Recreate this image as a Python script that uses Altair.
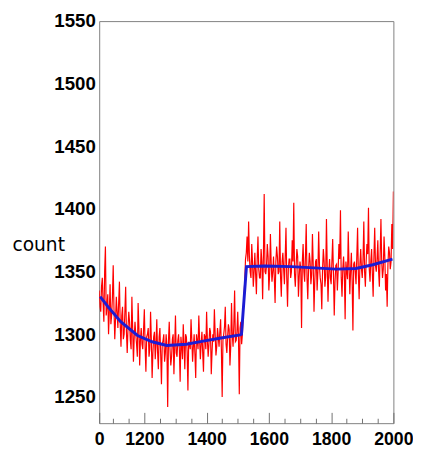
import altair as alt
import pandas as pd

# ---- data ----
bin_width = 5
# counts at 1055, 1060, ..., 2000
counts = [
    1335, 1318, 1345, 1310, 1370, 1322, 1300, 1340, 1315, 1355,
    1296, 1330, 1305, 1342, 1290, 1322, 1300, 1338, 1285, 1318,
    1295, 1330, 1278, 1310, 1292, 1325, 1275, 1305, 1288, 1320,
    1270, 1300, 1282, 1318, 1265, 1298, 1280, 1312, 1272, 1305,
    1260, 1295, 1278, 1300, 1242, 1310, 1275, 1296, 1268, 1315,
    1282, 1300, 1262, 1290, 1308, 1272, 1298, 1255, 1292, 1312,
    1278, 1300, 1265, 1295, 1315, 1280, 1302, 1270, 1298, 1318,
    1282, 1305, 1268, 1300, 1320, 1283, 1305, 1290, 1312, 1250,
    1300, 1322, 1285, 1308, 1275, 1325, 1290, 1335, 1295, 1318,
    1252, 1310, 1300, 1330, 1360, 1378, 1390,
    1350, 1372, 1338, 1365, 1332, 1378, 1345, 1368, 1328, 1412,
    1348, 1372, 1335, 1380, 1342, 1362, 1325, 1370, 1348, 1390,
    1330, 1365, 1340, 1385, 1322, 1360, 1345, 1375, 1405, 1338,
    1368, 1330, 1358, 1305, 1372, 1342, 1388, 1328, 1365, 1340,
    1380, 1318, 1358, 1335, 1382, 1345, 1320, 1368, 1338, 1392,
    1326, 1360, 1340, 1376, 1315, 1355, 1335, 1372, 1399, 1330,
    1362, 1312, 1350, 1382, 1332, 1365, 1303, 1358, 1340, 1385,
    1328, 1368, 1345, 1390, 1338, 1372, 1401, 1342, 1368, 1330,
    1385, 1350, 1375, 1338, 1392, 1345, 1378, 1335, 1322, 1370,
    1352, 1388, 1414,
]
# counts at 1057.5, 1062.5, ..., 1997.5
counts_mid = [
    1322, 1338, 1325, 1350, 1315, 1332, 1318, 1308, 1330, 1320,
    1312, 1318, 1325, 1308, 1315, 1296, 1318, 1302, 1305, 1310,
    1288, 1305, 1298, 1300, 1282, 1306, 1296, 1292, 1304, 1290,
    1298, 1305, 1288, 1296, 1285, 1302, 1292, 1286, 1298, 1284,
    1292, 1300, 1285, 1290, 1295, 1288, 1282, 1300, 1290, 1285,
    1295, 1288, 1298, 1280, 1292, 1300, 1286, 1294, 1288, 1296,
    1290, 1284, 1300, 1288, 1296, 1292, 1285, 1300, 1288, 1296,
    1292, 1302, 1286, 1294, 1300, 1290, 1298, 1302, 1288, 1295,
    1306, 1292, 1298, 1304, 1290, 1300, 1308, 1294, 1302, 1296,
    1305, 1292, 1315, 1342, 1365, 1358,
    1362, 1345, 1358, 1350, 1348, 1360, 1352, 1345, 1358, 1362,
    1350, 1355, 1362, 1348, 1356, 1350, 1345, 1358, 1362, 1350,
    1346, 1358, 1352, 1362, 1345, 1352, 1360, 1350, 1358, 1348,
    1355, 1362, 1346, 1352, 1358, 1350, 1362, 1345, 1352, 1358,
    1348, 1355, 1342, 1360, 1350, 1355, 1340, 1352, 1358, 1346,
    1354, 1350, 1345, 1358, 1348, 1342, 1356, 1350, 1360, 1345,
    1352, 1348, 1358, 1344, 1355, 1350, 1342, 1356, 1350, 1362,
    1348, 1356, 1352, 1360, 1350, 1358, 1364, 1352, 1358, 1348,
    1362, 1355, 1360, 1350, 1364, 1358, 1352, 1362, 1348, 1356,
    1365, 1358, 1368,
]
fit_x = [1058, 1083, 1124, 1178, 1225, 1272, 1335, 1389, 1446, 1508, 1512,
         1528, 1587, 1672, 1745, 1817, 1880, 1934, 1997]
fit_y = [1330, 1322, 1310, 1299, 1294, 1291, 1292, 1294.5, 1297, 1299.5, 1300,
         1354, 1354.5, 1354, 1353, 1352, 1352.5, 1355.5, 1360]
x_domain = [1055, 2000]
y_domain = [1229, 1550]
x_major_values = [1055, 1200, 1400, 1600, 1800, 2000]
x_minor_values = [1100, 1150, 1250, 1300, 1350, 1450, 1500, 1550,
                  1650, 1700, 1750, 1850, 1900, 1950]
y_label_values = [1250, 1300, 1350, 1400, 1450, 1500, 1550]

W, H = 300, 410

hist_df = pd.concat([
    pd.DataFrame({"x": [x_domain[0] + bin_width * i for i in range(len(counts))],
                  "y": counts}),
    pd.DataFrame({"x": [x_domain[0] + bin_width / 2 + bin_width * i
                        for i in range(len(counts_mid))],
                  "y": counts_mid}),
]).sort_values("x").reset_index(drop=True)
fit_df = pd.DataFrame({"x": fit_x, "y": fit_y})

x_scale = alt.Scale(domain=x_domain, nice=False, zero=False)
y_scale = alt.Scale(domain=y_domain, nice=False, zero=False)

label_font = "Liberation Sans"
tick_color = "#707070"

# main axis: drawn at the bottom edge (top axis pulled down), ticks pointing inward
red = alt.Chart(hist_df).mark_line(color="#ff0000", strokeWidth=1.2, clip=True).encode(
    x=alt.X("x:Q", scale=x_scale, axis=alt.Axis(
        orient="top", offset=-H,
        values=x_major_values, labelExpr="datum.value < 1100 ? '0' : datum.label",
        format="d", ticks=True, tickSize=11, tickColor=tick_color, tickWidth=1,
        domain=False, grid=False,
        labelFont=label_font, labelFontWeight="bold", labelFontSize=18,
        labelColor="black", labelBaseline="top", labelPadding=-19,
        labelFlush=False, labelOverlap=False, title=None)),
    y=alt.Y("y:Q", scale=y_scale, axis=alt.Axis(
        values=y_label_values, format="d", ticks=False, domain=False, grid=False,
        labelFont=label_font, labelFontWeight="bold", labelFontSize=19,
        labelColor="black", labelPadding=4, labelFlush=False, labelOverlap=False,
        title="count", titleAngle=0, titleX=-89, titleY=228, titleAlign="left",
        titleBaseline="middle", titleFont="DejaVu Sans", titleFontWeight="normal",
        titleFontSize=19, titleColor="black")),
)

fit = alt.Chart(fit_df).mark_line(color="#1c1cd4", strokeWidth=3, clip=True).encode(
    x=alt.X("x:Q", scale=x_scale, axis=alt.Axis(
        orient="top", offset=-H, values=x_minor_values, labels=False,
        domain=False, grid=False, tickColor=tick_color, tickWidth=1, tickSize=5,
        title=None)),
    y=alt.Y("y:Q", scale=y_scale, axis=None),
)

chart = (
    alt.layer(red, fit)
    .resolve_axis(x="independent", y="independent")
    .properties(width=W, height=H,
                autosize=alt.AutoSizeParams(type="none"),
                padding={"left": 93, "top": 9, "right": 20, "bottom": 24})
    .configure_view(stroke="#808080", strokeWidth=1)
)

chart.save("out.html", embed_options={"renderer": "svg", "actions": False})
